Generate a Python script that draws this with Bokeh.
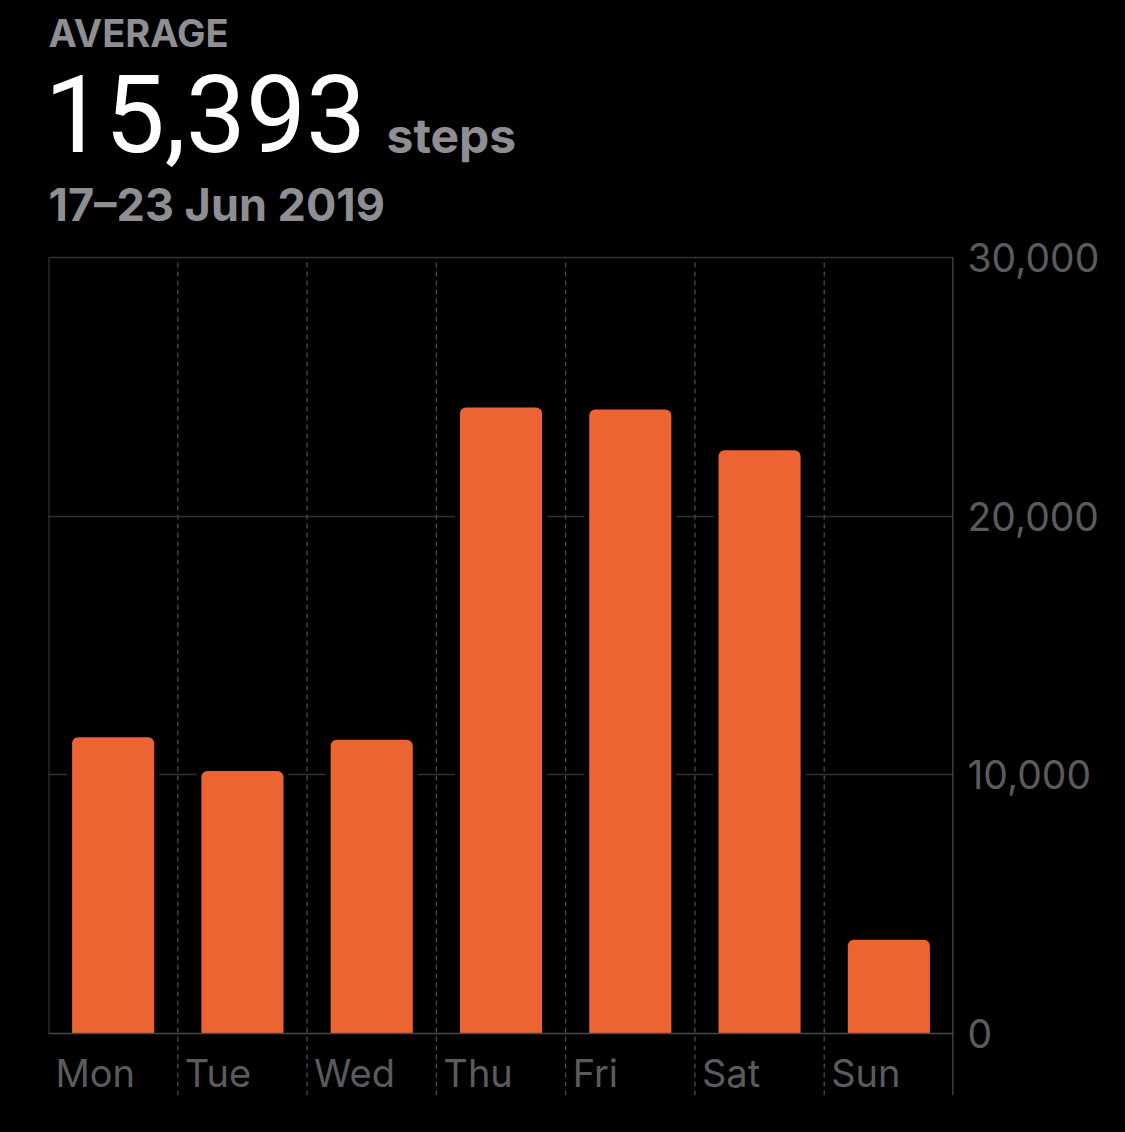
from bokeh.plotting import figure
from bokeh.models import (ColumnDataSource, FactorRange, Range1d, FixedTicker,
                          NumeralTickFormatter, Span)
from bokeh.transform import dodge
from bokeh.core.properties import value
from bokeh.embed import file_html
from bokeh.resources import INLINE

# ---- data ----
days = ["Mon", "Tue", "Wed", "Thu", "Fri", "Sat", "Sun"]
steps = [11450, 10150, 11350, 24200, 24120, 22550, 3620]
y_ticks = [0, 10000, 20000, 30000]
grid_ticks = [10000, 20000, 30000]
header_label = "AVERAGE"
header_value = "15,393"
header_unit = "steps"
header_dates = "17–23 Jun 2019"

FONT = "Inter"
BIG_FONT = "Roboto"
BAR = "#EC6432"
GREY_TXT = "#8E8E93"
AXIS_TXT = "#5B5B5F"
Y_TOP = 30000
Y_FLOOR = -2400
PX = (Y_TOP - Y_FLOOR) / 838.0   # data units per pixel
HEADER_PX = 257                   # room above the chart for the header


def above_top(px):
    """data y for a position px pixels above the 30,000 line"""
    return Y_TOP + px * PX


src = ColumnDataSource(dict(day=days, steps=steps, zero=[0] * len(days)))

p = figure(x_range=FactorRange(factors=days),
           y_range=Range1d(Y_FLOOR, above_top(HEADER_PX)),
           width=1125, height=1130, output_backend="svg", toolbar_location=None,
           y_axis_location="right",
           background_fill_color="black", border_fill_color="black",
           outline_line_color=None,
           min_border_left=48, min_border_top=0, min_border_right=172,
           min_border_bottom=35)

p.xaxis.visible = False
p.xgrid.visible = False

ax = p.yaxis[0]
ax.ticker = FixedTicker(ticks=y_ticks)
ax.formatter = NumeralTickFormatter(format="0,0")
ax.axis_line_color = None
ax.major_tick_line_color = None
ax.minor_tick_line_color = None
ax.major_label_standoff = 8
ax.major_label_text_font = FONT
ax.major_label_text_font_size = "39px"
ax.major_label_text_color = AXIS_TXT

p.ygrid.ticker = FixedTicker(ticks=grid_ticks)
p.ygrid.grid_line_color = "#303032"
p.ygrid.grid_line_width = 1.5

# bottom baseline at 0
p.add_layout(Span(location=0, dimension="width", line_color="#48484A", line_width=1.5))

# vertical separators
sep = ColumnDataSource(dict(day=days[1:], y0=[Y_FLOOR] * (len(days) - 1),
                            y1=[Y_TOP] * (len(days) - 1)))
xs = dodge("day", -0.5, range=p.x_range)
p.segment(x0=xs, y0="y0", x1=xs, y1="y1", source=sep,
          line_color="#4A4A4C", line_width=1.3, line_dash="5 4")

left_src = ColumnDataSource(dict(day=days[:1], y0=[0], y1=[Y_TOP]))
p.segment(x0=xs, y0="y0", x1=xs, y1="y1", source=left_src,
          line_color="#3A3A3C", line_width=2)
right_src = ColumnDataSource(dict(day=days[-1:], y0=[Y_FLOOR], y1=[Y_TOP]))
xr = dodge("day", 0.5, range=p.x_range)
p.segment(x0=xr, y0="y0", x1=xr, y1="y1", source=right_src,
          line_color="#4A4A4C", line_width=2.5)

# black halo around bars (gaps in grid lines)
p.vbar(x="day", top="steps", bottom=0, width=0.635, source=src,
       fill_color="black", line_color="black", line_width=10,
       border_radius=(6, 6, 0, 0))
# bars
p.vbar(x="day", top="steps", bottom=0, width=0.635, source=src,
       fill_color=BAR, line_color=None, border_radius=(6, 6, 0, 0))

# day labels
p.text(x=xs, y="zero", text="day", source=src, x_offset=7, y_offset=40,
       text_align="left", text_baseline="alphabetic",
       text_font=value(FONT), text_font_size="38px", text_color=AXIS_TXT)


# header (drawn as text glyphs above the 30,000 line)
def add_header(txt, x_off, px_above, size, color, style="normal", font=FONT):
    hs = ColumnDataSource(dict(day=days[:1], y=[above_top(px_above)], t=[txt]))
    p.text(x=xs, y="y", text="t", source=hs, x_offset=x_off,
           text_align="left", text_baseline="alphabetic",
           text_font=value(font), text_font_size=f"{size}px", text_color=color,
           text_font_style=style)


add_header(header_label, 0, 225, 38, GREY_TXT, "bold")
add_header(header_value, -4, 144, 107, "white", font=BIG_FONT)
add_header(header_unit, 338, 122, 48, GREY_TXT, "bold")
add_header(header_dates, 0, 53, 45, GREY_TXT, "bold")

html = file_html(p, INLINE)
html = html.replace("</head>", "<style>html, body { background: #000; }</style></head>", 1)
open("out.html", "w").write(html)
